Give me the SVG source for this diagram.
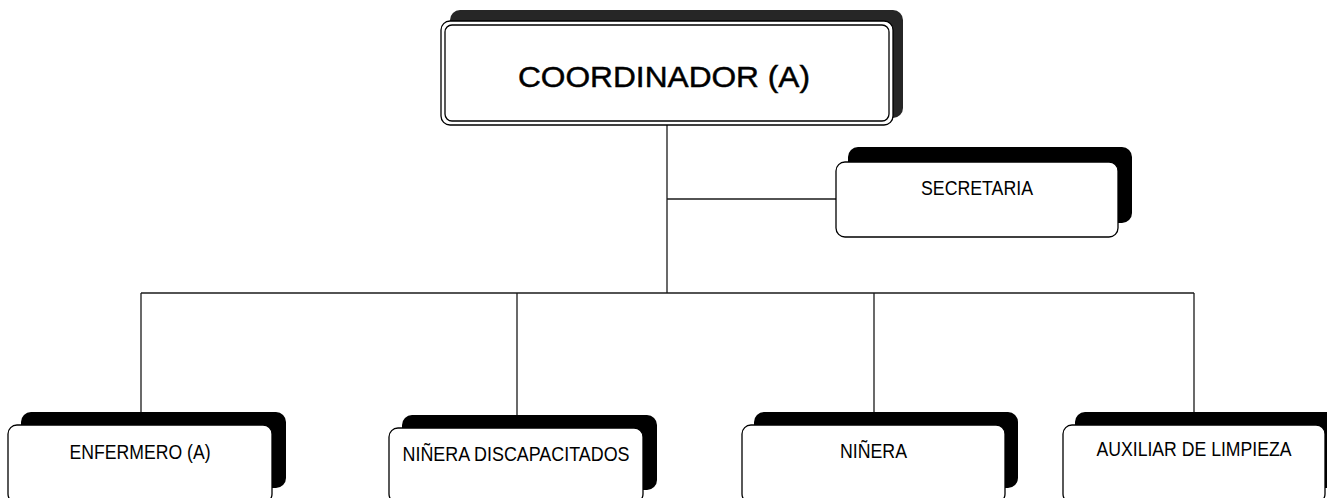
<svg xmlns="http://www.w3.org/2000/svg" width="1327" height="498" viewBox="0 0 1327 498">
<style>
.bg{fill:#ffffff}
.sh{fill:#000000}
.shd{fill:#262626}
.box{fill:#ffffff;stroke:#000000;stroke-width:1.3}
.ln{fill:none;stroke:#1a1a1a;stroke-width:1.3}
.t{font-family:"Liberation Sans",Arial,sans-serif;fill:#000000;text-anchor:middle}
.big{font-size:29px;stroke:#000000;stroke-width:0.45}
.sm{font-size:20.5px}
</style>
<rect class="bg" x="0" y="0" width="1327" height="498"/>
<g id="connectors">
<line class="ln" x1="667" y1="125" x2="667" y2="293"/>
<line class="ln" x1="667" y1="199" x2="836" y2="199"/>
<line class="ln" x1="141" y1="293" x2="1194" y2="293"/>
<line class="ln" x1="141" y1="293" x2="141" y2="425"/>
<line class="ln" x1="517" y1="293" x2="517" y2="428"/>
<line class="ln" x1="874" y1="293" x2="874" y2="425"/>
<line class="ln" x1="1194" y1="293" x2="1194" y2="425"/>
</g>
<g id="coordinador">
<rect class="shd" x="450" y="10" width="453" height="108" rx="10"/>
<rect class="box" x="441" y="21" width="452" height="104" rx="9"/>
<rect class="box" x="445" y="25" width="444" height="96" rx="7"/>
<text class="t big" x="664" y="87" textLength="292" lengthAdjust="spacingAndGlyphs">COORDINADOR (A)</text>
</g>
<g id="secretaria">
<rect class="sh" x="848" y="147" width="284" height="76" rx="10"/>
<rect class="box" x="836" y="162" width="282" height="75" rx="9"/>
<text class="t sm" x="977" y="195" textLength="112" lengthAdjust="spacingAndGlyphs">SECRETARIA</text>
</g>
<g id="enfermero">
<rect class="sh" x="21" y="412" width="265" height="76" rx="10"/>
<rect class="box" x="8" y="425" width="264" height="78" rx="9"/>
<text class="t sm" x="140" y="459" textLength="141" lengthAdjust="spacingAndGlyphs">ENFERMERO (A)</text>
</g>
<g id="ninera-discapacitados">
<rect class="sh" x="402" y="415" width="255" height="75" rx="10"/>
<rect class="box" x="389" y="428" width="254" height="75" rx="9"/>
<text class="t sm" x="516" y="461" textLength="227" lengthAdjust="spacingAndGlyphs">NIÑERA DISCAPACITADOS</text>
</g>
<g id="ninera">
<rect class="sh" x="754" y="412" width="264" height="76" rx="10"/>
<rect class="box" x="742" y="425" width="263" height="78" rx="9"/>
<text class="t sm" x="873.5" y="458" textLength="67" lengthAdjust="spacingAndGlyphs">NIÑERA</text>
</g>
<g id="auxiliar">
<rect class="sh" x="1075" y="412" width="265" height="76" rx="10"/>
<rect class="box" x="1063" y="425" width="262" height="78" rx="9"/>
<text class="t sm" x="1194" y="456" textLength="195" lengthAdjust="spacingAndGlyphs">AUXILIAR DE LIMPIEZA</text>
</g>
</svg>
